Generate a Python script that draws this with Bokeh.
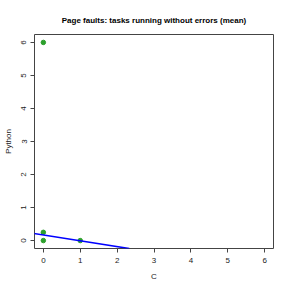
from bokeh.plotting import figure
from bokeh.models import Slope, Range1d, FixedTicker
from bokeh.embed import file_html
from bokeh.resources import INLINE

# data
c_vals = [0, 0, 0, 1]
py_vals = [6, 0.25, 0, 0]
fit_intercept = 0.17
fit_slope = -0.176
x_ticks = [0, 1, 2, 3, 4, 5, 6]
y_ticks = [0, 1, 2, 3, 4, 5, 6]

FONT = "Liberation Sans"

p = figure(width=291, height=291, output_backend="svg", toolbar_location=None,
           x_range=Range1d(-0.24, 6.24), y_range=Range1d(-0.24, 6.24),
           title="Page faults: tasks running without errors (mean)",
           min_border_left=34, min_border_right=18, min_border_top=34, min_border_bottom=43)

p.title.align = "center"
p.title.text_font = FONT
p.title.text_font_size = "8px"
p.title.text_font_style = "bold"
p.title.text_color = "#000000"
p.title.offset = 0
p.title.standoff = 20

p.xgrid.visible = False
p.ygrid.visible = False
p.outline_line_color = "#444444"
p.outline_line_width = 1
p.outline_line_alpha = 1.0

for ax, ticks in ((p.xaxis, x_ticks), (p.yaxis, y_ticks)):
    ax.ticker = FixedTicker(ticks=ticks)
    ax.minor_tick_line_color = None
    ax.major_tick_in = 0
    ax.major_tick_out = 4
    ax.major_tick_line_color = "#444444"
    ax.axis_line_color = None
    ax.major_label_text_font = FONT
    ax.major_label_text_font_size = "8px"
    ax.major_label_text_color = "#222222"
    ax.axis_label_text_font = FONT
    ax.axis_label_text_font_size = "8px"
    ax.axis_label_text_font_style = "normal"
    ax.axis_label_text_color = "#222222"

p.xaxis.axis_label = "C"
p.yaxis.axis_label = "Python"
p.xaxis.major_label_standoff = 5
p.xaxis.axis_label_standoff = 6
p.yaxis.axis_label_standoff = 6
p.yaxis.major_label_orientation = "vertical"
p.yaxis.major_label_standoff = 4

p.add_layout(Slope(gradient=fit_slope, y_intercept=fit_intercept, line_color="#0000ff", line_width=1.6))
p.scatter(c_vals, py_vals, size=4.5, color="#2ca02c", line_color="#2ca02c")

open("out.html", "w").write(file_html(p, INLINE))
